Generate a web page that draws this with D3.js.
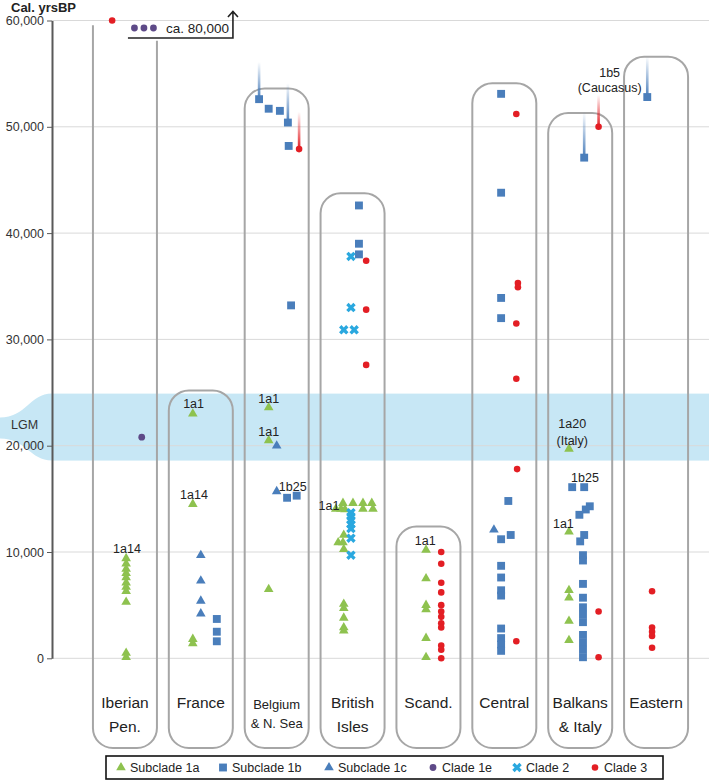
<!DOCTYPE html>
<html>
<head>
<meta charset="utf-8">
<script src="https://cdn.jsdelivr.net/npm/d3@7"></script>
<style>
  body { margin: 0; background: #fff; }
  svg { display: block; font-family: "Liberation Sans", Arial, sans-serif; }
</style>
</head>
<body>
<div id="chart"></div>
<script>
// ---- data (years cal. BP, lane = small side offset inside a region) ----
const regions = ["Iberian", "France", "Belgium", "British", "Scand", "Central", "Balkans", "Eastern"];
const regionLabels = [["Iberian", "Pen."], ["France"], ["Belgium", "& N. Sea"], ["British", "Isles"],
                      ["Scand."], ["Central"], ["Balkans", "& Italy"], ["Eastern"]];
const boxTops = [59550, 25200, 53600, 43750, 12400, 54100, 51300, 56600];
const iberianRightTop = 58100;
const yTicks = [0, 10000, 20000, 30000, 40000, 50000, 60000];
const lgm = [18600, 24900];

const subclade1a = [
  ["Iberian", 9400, 0.15], ["Iberian", 8900, 0.15], ["Iberian", 8400, 0.15], ["Iberian", 8000, 0.15],
  ["Iberian", 7600, 0.15], ["Iberian", 7100, 0.15], ["Iberian", 6700, 0.15], ["Iberian", 6300, 0.15],
  ["Iberian", 5300, 0.15], ["Iberian", 500, 0.15], ["Iberian", 100, 0.15],
  ["France", 23000, -1], ["France", 14500, -1], ["France", 1800, -1], ["France", 1400, -1],
  ["Belgium", 23600, -1], ["Belgium", 20500, -1], ["Belgium", 6500, -1],
  ["British", 14600, -1.2], ["British", 14600, 0.05], ["British", 14600, 1.3], ["British", 14600, 2.4],
  ["British", 14050, -2.1], ["British", 14050, -1.45], ["British", 14000, -0.95], ["British", 14050, 1.3],
  ["British", 14050, 2.55], ["British", 11600, -1.1], ["British", 10900, -1.8], ["British", 10900, -1.2],
  ["British", 10250, -1.1], ["British", 5100, -1.1], ["British", 4700, -1.1], ["British", 3800, -1.1],
  ["British", 2900, -1.1], ["British", 2600, -1.1],
  ["Scand", 10200, -0.3], ["Scand", 7500, -0.3], ["Scand", 5000, -0.3], ["Scand", 4600, -0.3],
  ["Scand", 1900, -0.3], ["Scand", 100, -0.3],
  ["Balkans", 19700, -1.4], ["Balkans", 11900, -1.4], ["Balkans", 6400, -1.4], ["Balkans", 5700, -1.4],
  ["Balkans", 3500, -1.4], ["Balkans", 1700, -1.4]
];
const subclade1b = [
  ["France", 3700, 2], ["France", 2500, 2], ["France", 1600, 2],
  ["Belgium", 52600, -2.2], ["Belgium", 51700, -1], ["Belgium", 51500, 0.4], ["Belgium", 50400, 1.4],
  ["Belgium", 48200, 1.5], ["Belgium", 33200, 1.8], ["Belgium", 15100, 1.3], ["Belgium", 15300, 2.5],
  ["British", 42600, 0.8], ["British", 39000, 0.8], ["British", 38000, 0.8],
  ["Central", 53100, -0.4], ["Central", 43800, -0.4], ["Central", 33900, -0.4], ["Central", 32000, -0.4],
  ["Central", 14800, 0.5], ["Central", 11600, 0.8], ["Central", 11200, -0.4], ["Central", 8700, -0.4],
  ["Central", 7600, -0.4], ["Central", 6400, -0.4], ["Central", 5900, -0.4], ["Central", 2800, -0.4],
  ["Central", 1900, -0.4], ["Central", 1300, -0.4], ["Central", 700, -0.4],
  ["Balkans", 47100, 0.5], ["Balkans", 16100, -1], ["Balkans", 16100, 0.5], ["Balkans", 14300, 1.2],
  ["Balkans", 14000, 0.7], ["Balkans", 13500, -0.1], ["Balkans", 11600, 0.5], ["Balkans", 11000, 0],
  ["Balkans", 9700, 0.35], ["Balkans", 9200, 0.35], ["Balkans", 7000, 0.35], ["Balkans", 5700, 0.35],
  ["Balkans", 4800, 0.35], ["Balkans", 4100, 0.35], ["Balkans", 3400, 0.35], ["Balkans", 2200, 0.35],
  ["Balkans", 1500, 0.35], ["Balkans", 800, 0.35], ["Balkans", 100, 0.35],
  ["Eastern", 52800, -1.1]
];
const subclade1c = [
  ["France", 9700, 0], ["France", 7300, 0], ["France", 5400, 0], ["France", 4200, 0],
  ["Belgium", 20000, 0], ["Belgium", 15700, 0],
  ["Central", 12100, -1.3]
];
const clade1e = [["Iberian", 20800, 2.1]];
const clade1eOffScale = [80000, 80000, 80000];
const clade2 = [
  ["British", 37800, -0.2], ["British", 33000, -0.2], ["British", 30900, -1.1], ["British", 30900, 0.2],
  ["British", 13700, -0.2], ["British", 13350, -0.2], ["British", 13000, -0.2], ["British", 12600, -0.2],
  ["British", 12200, -0.2], ["British", 11300, -0.2], ["British", 9700, -0.2]
];
const clade3 = [
  ["Iberian", 60000, -1.6],
  ["Belgium", 47900, 2.8],
  ["British", 37400, 1.7], ["British", 32800, 1.7], ["British", 27600, 1.7],
  ["Scand", 10000, 1.6], ["Scand", 8900, 1.6], ["Scand", 7100, 1.6], ["Scand", 6200, 1.6],
  ["Scand", 5000, 1.6], ["Scand", 4400, 1.6], ["Scand", 3900, 1.6], ["Scand", 3300, 1.6],
  ["Scand", 2900, 1.6], ["Scand", 1200, 1.6], ["Scand", 800, 1.6], ["Scand", 0, 1.6],
  ["Central", 51200, 1.5], ["Central", 35300, 1.7], ["Central", 34900, 1.7], ["Central", 31500, 1.5],
  ["Central", 26300, 1.5], ["Central", 17800, 1.6], ["Central", 1600, 1.5],
  ["Balkans", 50000, 2.3], ["Balkans", 4400, 2.3], ["Balkans", 100, 2.3],
  ["Eastern", 6300, -0.5], ["Eastern", 2900, -0.5], ["Eastern", 2500, -0.5], ["Eastern", 2100, -0.5],
  ["Eastern", 1000, -0.5]
];
// possibly older: region, clade, date, faded upper end, lane
const olderThan = [
  ["Belgium", "1b", 52600, 56100, -2.2], ["Belgium", "1b", 50400, 54100, 1.4],
  ["Belgium", "3", 47900, 51400, 2.8], ["Balkans", "1b", 47100, 51400, 0.5],
  ["Balkans", "3", 50000, 53000, 2.3], ["Eastern", "1b", 52800, 56600, -1.1]
];
const notes = [
  ["Iberian", 10350, "1a14", 0.25], ["France", 23990, "1a1", -0.9], ["France", 15430, "1a14", -0.85],
  ["Belgium", 24460, "1a1", -1], ["Belgium", 21350, "1a1", -1], ["Belgium", 16180, "1b25", 2.0],
  ["British", 14390, "1a1", -2.95], ["Scand", 11100, "1a1", -0.4],
  ["Balkans", 22110, "1a20", -1], ["Balkans", 20510, "(Italy)", -1], ["Balkans", 17030, "1b25", 0.6],
  ["Balkans", 12700, "1a1", -2.1], ["Eastern", 55130, "1b5", -5.8], ["Eastern", 53720, "(Caucasus)", -5.8]
];
const legendNames = ["Subclade 1a", "Subclade 1b", "Subclade 1c", "Clade 1e", "Clade 2", "Clade 3"];

// ---- styles ----
const col = { "1a": "#8ec24f", "1b": "#4a7ebb", "1c": "#4a7ebb", "1e": "#5e4a88", "2": "#2aa8df", "3": "#e31e24" };
const shape = {
  "1a": d3.symbol(d3.symbolTriangle, 40), "1b": d3.symbol(d3.symbolSquare, 62),
  "1c": d3.symbol(d3.symbolTriangle, 40), "1e": d3.symbol(d3.symbolCircle, 36),
  "2": d3.symbol(d3.symbolCross, 56), "3": d3.symbol(d3.symbolCircle, 34)
};
const legendKeys = ["1a", "1b", "1c", "1e", "2", "3"];

const svg = d3.select("#chart").append("svg").attr("width", 709).attr("height", 781);

const y = d3.scaleLinear().domain([0, 60000]).range([658.3, 20.5]);
const x = d3.scaleBand().domain(regions).range([87, 694]);
const lane = d3.scaleLinear().domain([0, 1]).range([0, 8]);
const cx = r => x(r) + x.bandwidth() / 2;
const px = (r, l) => cx(r) + lane(l);
const axisX = 52, boxHalf = 32, boxBottom = 748, rad = 20;

// LGM band
const lg = svg.append("g");
lg.append("rect").attr("x", axisX).attr("width", 709 - axisX)
  .attr("y", y(lgm[1])).attr("height", y(lgm[0]) - y(lgm[1])).attr("fill", "#c7e7f5");
const t = y(lgm[1]), b = y(lgm[0]);
lg.append("path").attr("fill", "#c7e7f5")
  .attr("d", `M${axisX},${t} C30,${t} 26,${t + 24} 0,${t + 24} L0,${b - 22} C26,${b - 22} 30,${b} ${axisX},${b} Z`);
lg.append("text").attr("x", 11).attr("y", (t + b) / 2 - 2).attr("dy", "0.35em")
  .attr("font-size", 12.5).attr("fill", "#333").text("LGM");

// gridlines
svg.append("g").selectAll("line").data(yTicks).join("line")
  .attr("x1", axisX).attr("x2", 709).attr("y1", d => y(d)).attr("y2", d => y(d))
  .attr("stroke", "#d9d9d9").attr("stroke-width", 1);

// axis
const ax = svg.append("g").attr("transform", `translate(${axisX},0)`)
  .call(d3.axisLeft(y).tickValues(yTicks).tickFormat(d3.format(",")).tickSize(5).tickSizeOuter(0).tickPadding(3));
ax.select(".domain").attr("stroke", "#595959").attr("stroke-width", 2);
ax.selectAll(".tick line").attr("stroke", "#595959");
ax.selectAll(".tick text").attr("font-size", 12.5).attr("fill", "#333").attr("font-family", "Liberation Sans, Arial, sans-serif");
svg.append("text").attr("x", 11).attr("y", 12).attr("font-size", 13).attr("font-weight", "bold")
  .attr("fill", "#222").text("Cal. yrsBP");

// region boxes
function boxPath(x0, x1, top, bot) {
  return `M${x0},${bot - rad} L${x0},${top + rad} A${rad},${rad} 0 0 1 ${x0 + rad},${top} L${x1 - rad},${top}` +
    ` A${rad},${rad} 0 0 1 ${x1},${top + rad} L${x1},${bot - rad} A${rad},${rad} 0 0 1 ${x1 - rad},${bot}` +
    ` L${x0 + rad},${bot} A${rad},${rad} 0 0 1 ${x0},${bot - rad} Z`;
}
const boxes = svg.append("g").attr("fill", "none").attr("stroke", "#a6a6a6").attr("stroke-width", 2);
regions.forEach((r, i) => {
  const x0 = cx(r) - boxHalf, x1 = cx(r) + boxHalf;
  if (i === 0) {
    boxes.append("path").attr("d",
      `M${x0},${y(boxTops[0])} L${x0},${boxBottom - rad} A${rad},${rad} 0 0 0 ${x0 + rad},${boxBottom}` +
      ` L${x1 - rad},${boxBottom} A${rad},${rad} 0 0 0 ${x1},${boxBottom - rad} L${x1},${y(iberianRightTop)}`);
  } else {
    boxes.append("path").attr("d", boxPath(x0, x1, y(boxTops[i]), boxBottom));
  }
});

// region labels
regions.forEach((r, i) => {
  const lines = regionLabels[i];
  const small = r === "Belgium";
  const g = svg.append("text").attr("text-anchor", "middle").attr("fill", "#222")
    .attr("font-size", small ? 13 : 15.5);
  lines.forEach((s, k) => {
    g.append("tspan").attr("x", cx(r)).attr("y", (small ? 709 : 708) + k * (small ? 19 : 24)).text(s);
  });
});

// fading "older than" bars
const defs = svg.append("defs");
["1b", "3"].forEach(k => {
  const gr = defs.append("linearGradient").attr("id", "fade" + k).attr("x1", 0).attr("y1", 1).attr("x2", 0).attr("y2", 0);
  gr.append("stop").attr("offset", 0).attr("stop-color", col[k]).attr("stop-opacity", 1);
  gr.append("stop").attr("offset", 1).attr("stop-color", col[k]).attr("stop-opacity", 0);
});
svg.append("g").selectAll("rect").data(olderThan).join("rect")
  .attr("x", d => px(d[0], d[4]) - 1.3).attr("width", 2.6)
  .attr("y", d => y(d[3])).attr("height", d => y(d[2]) - y(d[3]))
  .attr("fill", d => `url(#fade${d[1]})`);

// points
function drawPoints(data, k) {
  svg.append("g").selectAll("path").data(data).join("path")
    .attr("d", shape[k])
    .attr("transform", d => `translate(${px(d[0], d[2])},${y(d[1])})` + (k === "2" ? " rotate(45)" : ""))
    .attr("fill", col[k]);
}
drawPoints(subclade1b, "1b");
drawPoints(subclade1c, "1c");
drawPoints(subclade1a, "1a");
drawPoints(clade1e, "1e");
drawPoints(clade2, "2");
drawPoints(clade3, "3");

// small annotations
svg.append("g").selectAll("text").data(notes).join("text")
  .attr("x", d => px(d[0], d[3])).attr("y", d => y(d[1])).attr("dy", "0.35em")
  .attr("text-anchor", "middle").attr("font-size", 12.5).attr("fill", "#222").text(d => d[2]);

// off-scale clade 1e (ca. 80,000)
const ib = cx("Iberian");
svg.append("path").attr("fill", "none").attr("stroke", "#222").attr("stroke-width", 1.6)
  .attr("d", `M${ib + 3},38 L${ib + 108},38 L${ib + 108},12 M${ib + 103},17 L${ib + 108},11.5 L${ib + 113},17`);
svg.append("g").selectAll("path").data(clade1eOffScale).join("path")
  .attr("d", shape["1e"]).attr("fill", col["1e"])
  .attr("transform", (d, i) => `translate(${ib + 9.5 + i * 9.5},28)`);
svg.append("text").attr("x", ib + 41).attr("y", 28).attr("dy", "0.35em").attr("font-size", 13.5)
  .attr("fill", "#222").text("ca. " + d3.format(",")(clade1eOffScale[0]));

// legend
const lgd = svg.append("g");
lgd.append("rect").attr("x", 106).attr("y", 756).attr("width", 557).attr("height", 23)
  .attr("fill", "#fff").attr("stroke", "#111").attr("stroke-width", 1.6);
const legX = [121, 223, 329, 433, 517, 595];
legendKeys.forEach((k, i) => {
  lgd.append("path").attr("d", shape[k]).attr("fill", col[k])
    .attr("transform", `translate(${legX[i]},767.5)` + (k === "2" ? " rotate(45)" : ""));
  lgd.append("text").attr("x", legX[i] + 9).attr("y", 767.5).attr("dy", "0.35em")
    .attr("font-size", 12.5).attr("fill", "#222").text(legendNames[i]);
});
</script>
</body>
</html>
